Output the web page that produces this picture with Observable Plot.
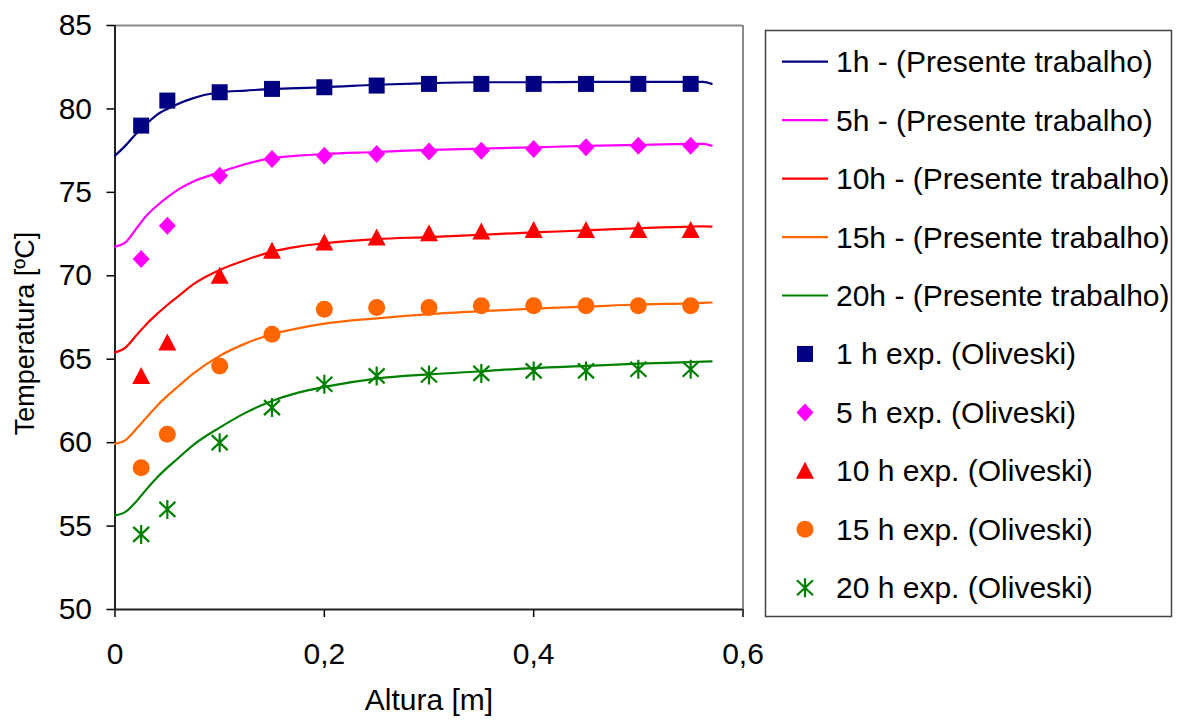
<!DOCTYPE html>
<html>
<head>
<meta charset="utf-8">
<script src="https://cdn.jsdelivr.net/npm/d3@7"></script>
<script src="https://cdn.jsdelivr.net/npm/@observablehq/plot@0.6"></script>
<style>
  body { margin: 0; background: #fff; }
  #wrap { position: relative; width: 1180px; height: 720px; font-family: "Liberation Sans", Arial, sans-serif; }
  #wrap > svg { position: absolute; left: 0; top: 0; }
</style>
</head>
<body>
<div id="wrap"></div>
<script>
// ---- data ----
const modelX = [0, 0.01, 0.02, 0.03, 0.04, 0.05, 0.06, 0.075, 0.1, 0.125, 0.15, 0.175, 0.2, 0.25, 0.3, 0.35, 0.4, 0.45, 0.5, 0.55, 0.562, 0.57];
const model1h  = [77.2, 77.8, 78.5, 79.1, 79.65, 80.0, 80.3, 80.65, 81.0, 81.1, 81.2, 81.25, 81.3, 81.45, 81.55, 81.6, 81.6, 81.62, 81.62, 81.62, 81.62, 81.5];
const model5h  = [71.75, 72.0, 72.8, 73.6, 74.2, 74.7, 75.15, 75.65, 76.2, 76.7, 77.05, 77.2, 77.3, 77.42, 77.55, 77.62, 77.7, 77.78, 77.85, 77.9, 77.9, 77.8];
const model10h = [65.4, 65.7, 66.4, 67.1, 67.7, 68.25, 68.75, 69.5, 70.35, 70.95, 71.45, 71.75, 71.95, 72.2, 72.32, 72.46, 72.6, 72.72, 72.85, 72.95, 72.96, 72.95];
const model15h = [59.93, 60.15, 60.8, 61.5, 62.2, 62.8, 63.35, 64.15, 65.2, 65.95, 66.5, 66.85, 67.13, 67.45, 67.7, 67.88, 68.03, 68.15, 68.28, 68.35, 68.38, 68.4];
const model20h = [55.64, 55.85, 56.45, 57.2, 57.9, 58.5, 59.05, 59.87, 60.9, 61.8, 62.5, 63.0, 63.34, 63.84, 64.09, 64.28, 64.47, 64.6, 64.73, 64.83, 64.85, 64.87];

const expX = [0.025, 0.05, 0.1, 0.15, 0.2, 0.25, 0.3, 0.35, 0.4, 0.45, 0.5, 0.55];
const exp1h  = [79, 80.5, 81, 81.2, 81.3, 81.4, 81.5, 81.5, 81.5, 81.5, 81.5, 81.5];
const exp5h  = [71, 73, 76, 77, 77.2, 77.3, 77.45, 77.5, 77.6, 77.7, 77.8, 77.8];
const exp10h = [64, 66, 70, 71.5, 72, 72.3, 72.55, 72.65, 72.75, 72.75, 72.75, 72.75];
const exp15h = [58.5, 60.5, 64.6, 66.5, 68, 68.1, 68.1, 68.2, 68.2, 68.2, 68.2, 68.2];
const exp20h = [54.5, 56, 60, 62.1, 63.5, 64, 64.05, 64.15, 64.3, 64.3, 64.4, 64.4];

const modelNames = ["1h - (Presente trabalho)", "5h - (Presente trabalho)", "10h - (Presente trabalho)", "15h - (Presente trabalho)", "20h - (Presente trabalho)"];
const expNames = ["1 h exp. (Oliveski)", "5 h exp. (Oliveski)", "10 h exp. (Oliveski)", "15 h exp. (Oliveski)", "20 h exp. (Oliveski)"];
const colors = ["#000080", "#FF00FF", "#FF0000", "#FF6600", "#008000"];
const xTicks = [0, 0.2, 0.4, 0.6];
const yTicks = [50, 55, 60, 65, 70, 75, 80, 85];
const xTitle = "Altura [m]";
const yTitle = "Temperatura [ºC]";

// ---- symbols ----
const symSquare = {draw(c) { c.rect(-8, -8, 16, 16); }};
const symDiamond = {draw(c) { c.moveTo(0, -9); c.lineTo(8.5, 0); c.lineTo(0, 9); c.lineTo(-8.5, 0); c.closePath(); }};
const symTriangle = {draw(c) { c.moveTo(0, -9); c.lineTo(9, 8); c.lineTo(-9, 8); c.closePath(); }};
const symCircle = {draw(c) { c.moveTo(8.5, 0); c.arc(0, 0, 8.5, 0, 2 * Math.PI); c.closePath(); }};
const symStar = {draw(c) { c.moveTo(0, -9.5); c.lineTo(0, 9.5); c.moveTo(-8, -7.5); c.lineTo(8, 7.5); c.moveTo(-8, 7.5); c.lineTo(8, -7.5); }};
const symbols = [symSquare, symDiamond, symTriangle, symCircle, symStar];

const modelSeries = [model1h, model5h, model10h, model15h, model20h];
const expSeries = [exp1h, exp5h, exp10h, exp15h, exp20h];

const lineData = modelSeries.flatMap((s, i) => s.map((v, j) => ({x: modelX[j], y: v, k: i})));
const expData = expSeries.map((s, i) => s.map((v, j) => ({x: expX[j], y: v, k: i})));

const font = '"Liberation Sans", Arial, sans-serif';

const marks = [
  Plot.ruleY([85], {stroke: "#8a8a8a", strokeWidth: 2}),
  Plot.ruleX([0.6], {stroke: "#8a8a8a", strokeWidth: 2}),
  Plot.axisY({ticks: yTicks, tickSize: 8, tickPadding: 15, label: null, fontSize: 30, strokeWidth: 1.5}),
  Plot.axisX({ticks: xTicks, tickSize: 8, tickPadding: 25, label: null, fontSize: 30, strokeWidth: 1.5,
    tickFormat: d => String(d).replace(".", ",")}),
  Plot.ruleX([0], {stroke: "#222", strokeWidth: 2}),
  Plot.ruleY([50], {stroke: "#222", strokeWidth: 2}),
];
for (let i = 0; i < 5; i++) {
  marks.push(Plot.line(lineData.filter(d => d.k === i), {x: "x", y: "y", stroke: colors[i], strokeWidth: 2.2, curve: "monotone-x"}));
}
for (let i = 0; i < 5; i++) {
  const opts = i === 4
    ? {x: "x", y: "y", symbol: symbols[i], r: 8, fill: "none", stroke: colors[i], strokeWidth: 2.2}
    : {x: "x", y: "y", symbol: symbols[i], r: 8, fill: colors[i], stroke: "none"};
  marks.push(Plot.dot(expData[i], opts));
}
marks.push(Plot.text([xTitle], {frameAnchor: "bottom", dy: 91, lineAnchor: "middle", textAnchor: "middle", fontSize: 30, fill: "#000"}));
marks.push(Plot.text([yTitle], {frameAnchor: "left", dx: -89.5, dy: 16, rotate: -90, lineAnchor: "middle", textAnchor: "middle", fontSize: 27, fill: "#000"}));

const chart = Plot.plot({
  width: 760,
  height: 720,
  marginLeft: 114.5,
  marginRight: 17.5,
  marginTop: 25,
  marginBottom: 111,
  x: {domain: [0, 0.6]},
  y: {domain: [50, 85]},
  style: {fontFamily: font, fontSize: "30px", color: "#000", background: "transparent", overflow: "visible"},
  marks
});
document.getElementById("wrap").appendChild(chart);

// ---- legend (right of plot) ----
const lg = d3.select("#wrap").append("svg").attr("width", 1180).attr("height", 720);
lg.append("rect").attr("x", 765.5).attr("y", 30.5).attr("width", 406).attr("height", 586)
  .attr("fill", "none").attr("stroke", "#444").attr("stroke-width", 1.5);
const rowY = i => 61.7 + i * 58.45;
modelNames.forEach((name, i) => {
  const y = rowY(i);
  lg.append("line").attr("x1", 782).attr("x2", 828).attr("y1", y).attr("y2", y)
    .attr("stroke", colors[i]).attr("stroke-width", 2.2);
  lg.append("text").attr("x", 836).attr("y", y).attr("dominant-baseline", "central")
    .attr("font-family", font).attr("font-size", 30).attr("fill", "#000").text(name);
});
expNames.forEach((name, i) => {
  const y = rowY(i + 5);
  const p = lg.append("path").attr("transform", `translate(805,${y})`)
    .attr("d", d3.symbol(symbols[i], 64)());
  if (i === 4) p.attr("fill", "none").attr("stroke", colors[i]).attr("stroke-width", 2.2);
  else p.attr("fill", colors[i]);
  lg.append("text").attr("x", 836).attr("y", y).attr("dominant-baseline", "central")
    .attr("font-family", font).attr("font-size", 30).attr("fill", "#000").text(name);
});
</script>
</body>
</html>
